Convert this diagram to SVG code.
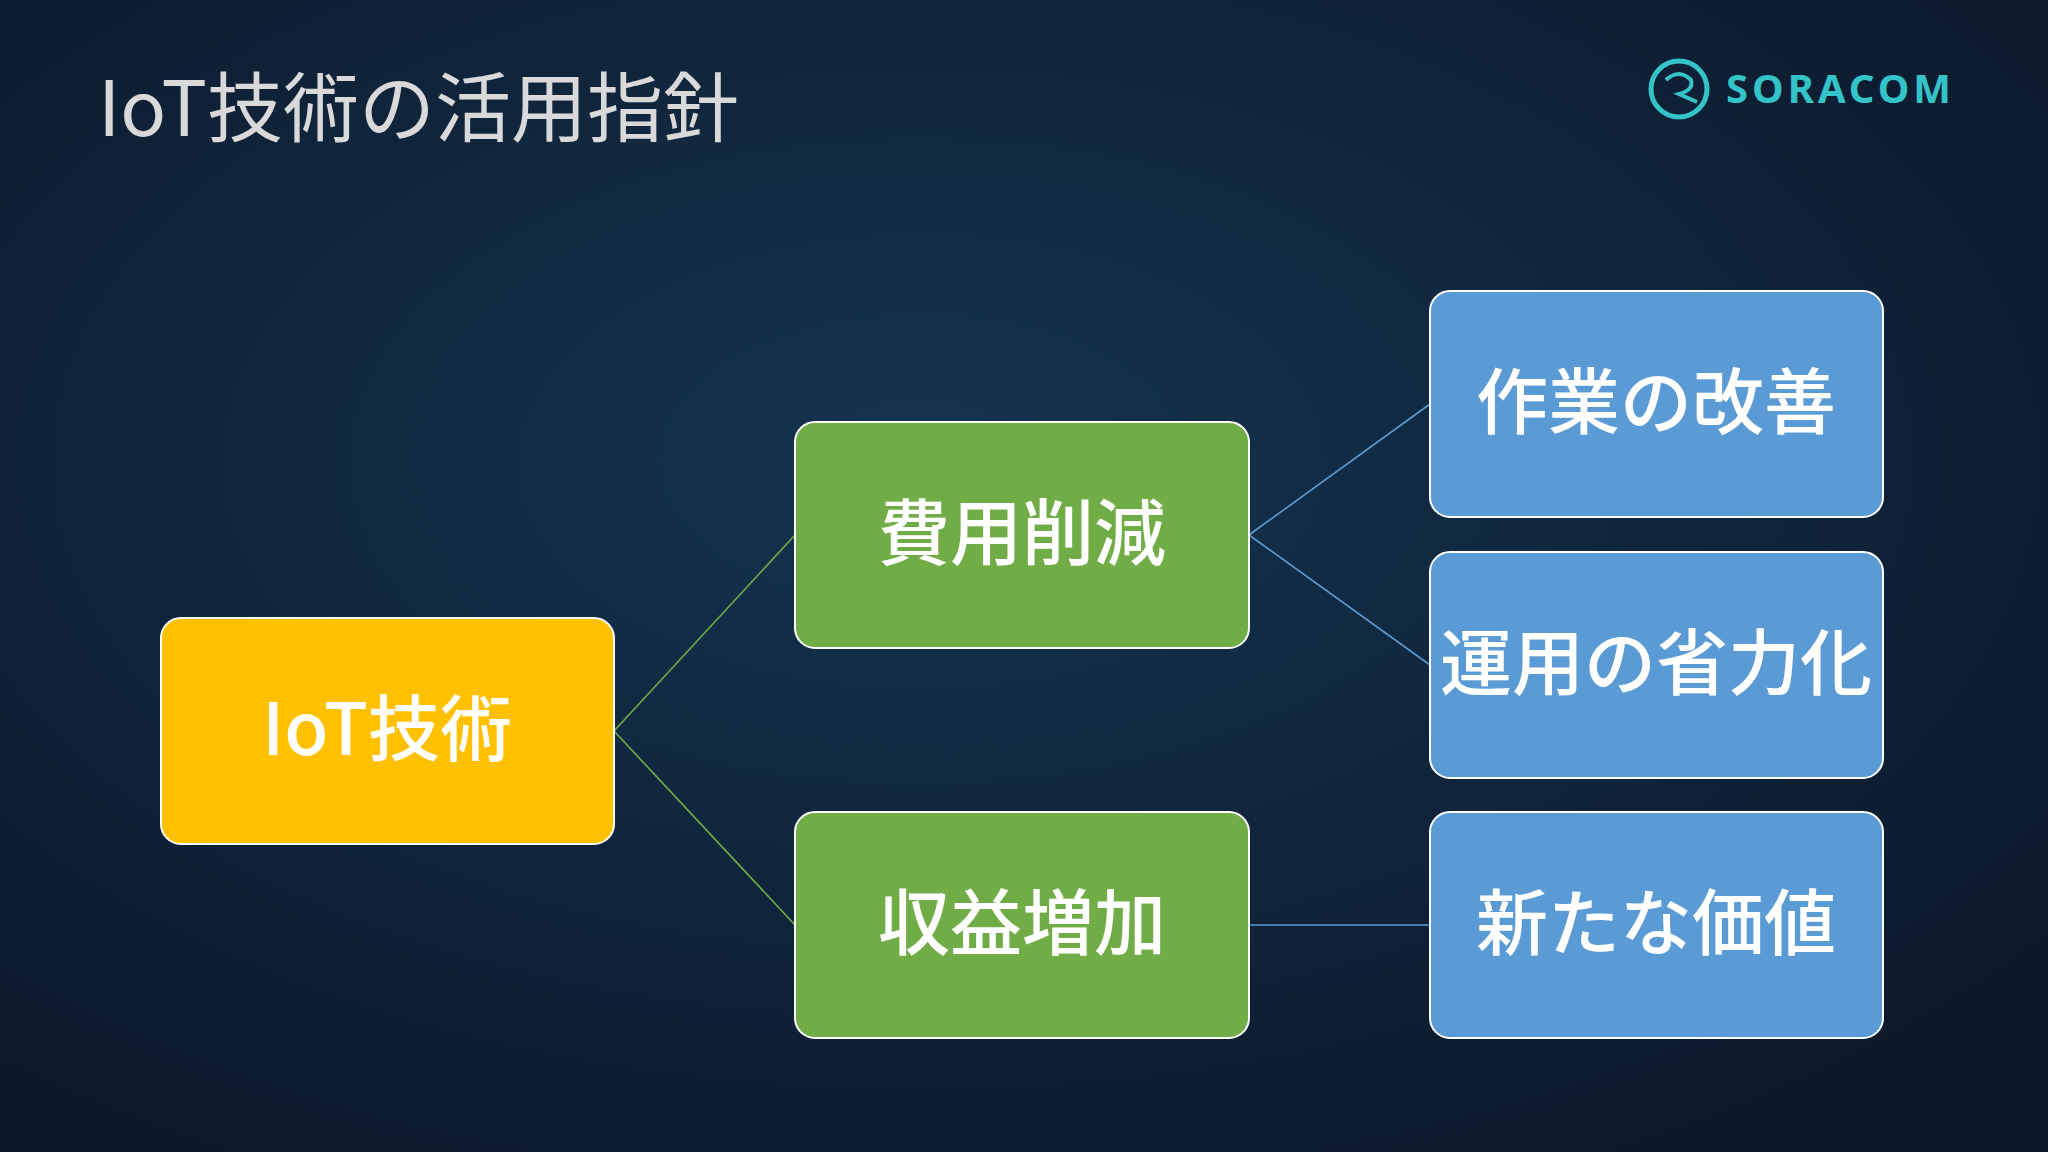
<svg xmlns="http://www.w3.org/2000/svg" width="2048" height="1152" viewBox="0 0 2048 1152">
<defs>
<radialGradient id="bg" cx="0.45" cy="0.4" r="0.75">
<stop offset="0" stop-color="#14344f"/>
<stop offset="0.6" stop-color="#0f2238"/>
<stop offset="1" stop-color="#0b1626"/>
</radialGradient>
<style>
.box{stroke:#ffffff;stroke-width:2}
.t{font-family:"Noto Sans CJK JP","Noto Sans",sans-serif;font-size:72px;fill:#ffffff;text-anchor:middle;font-weight:500}
.g{stroke:#70AD47;stroke-width:1.6;fill:none}
.b{stroke:#5B9BD5;stroke-width:1.6;fill:none}
</style>
</defs>
<rect width="2048" height="1152" fill="url(#bg)"/>
<text x="98" y="136" font-family="Noto Sans CJK JP, Noto Sans, sans-serif" font-size="76" fill="#d9d9d9">IoT技術の活用指針</text>
<g id="logo">
<circle cx="1679" cy="89" r="28" fill="none" stroke="#33c3c9" stroke-width="5"/>
<path d="M1666 80 q13 -12 25 0 q3 10 -12 14 l18 8" fill="none" stroke="#33c3c9" stroke-width="4"/>
<text x="1726" y="103" font-family="Noto Sans, sans-serif" font-size="40" font-weight="700" letter-spacing="4" fill="#33c3c9">SORACOM</text>
</g>
<g id="connectors">
<line class="g" x1="614" y1="731" x2="795" y2="535"/>
<line class="g" x1="614" y1="731" x2="795" y2="925"/>
<line class="b" x1="1249" y1="535" x2="1430" y2="404"/>
<line class="b" x1="1249" y1="535" x2="1430" y2="665"/>
<line class="b" x1="1249" y1="925" x2="1430" y2="925"/>
</g>
<g id="iot"><rect class="box" x="161" y="618" width="453" height="226" rx="20" fill="#FFC000"/><text class="t" x="387" y="755">IoT技術</text></g>
<g id="cost"><rect class="box" x="795" y="422" width="454" height="226" rx="20" fill="#70AD47"/><text class="t" x="1022" y="559">費用削減</text></g>
<g id="revenue"><rect class="box" x="795" y="812" width="454" height="226" rx="20" fill="#70AD47"/><text class="t" x="1022" y="949">収益増加</text></g>
<g id="work"><rect class="box" x="1430" y="291" width="453" height="226" rx="20" fill="#5B9BD5"/><text class="t" x="1656" y="428">作業の改善</text></g>
<g id="ops"><rect class="box" x="1430" y="552" width="453" height="226" rx="20" fill="#5B9BD5"/><text class="t" x="1656" y="689">運用の省力化</text></g>
<g id="value"><rect class="box" x="1430" y="812" width="453" height="226" rx="20" fill="#5B9BD5"/><text class="t" x="1656" y="949">新たな価値</text></g>
</svg>
